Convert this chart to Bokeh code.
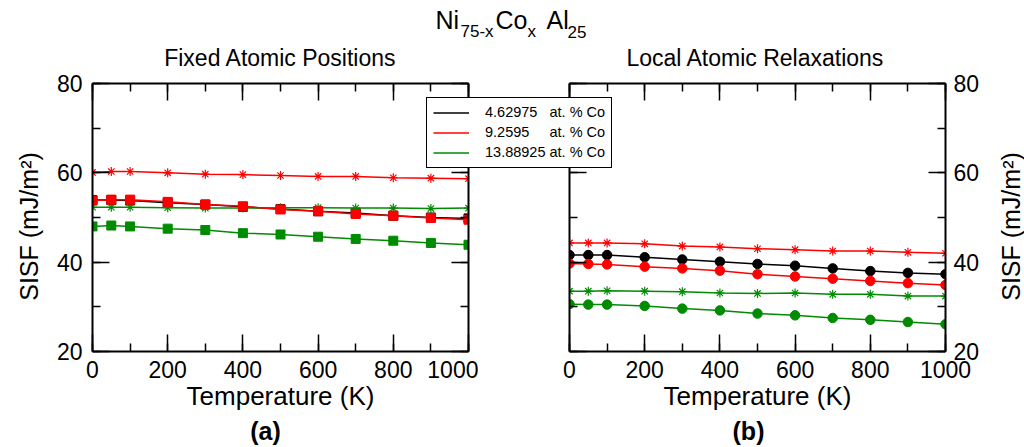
import math
from bokeh.plotting import figure
from bokeh.models import (Range1d, LinearAxis, SingleIntervalTicker, Label,
                          Legend, LegendItem)
from bokeh.layouts import row, column
from bokeh.embed import file_html
from bokeh.resources import INLINE

FONT = "Liberation Sans"
BLACK, RED, GREEN = "#000000", "#ff0000", "#008b00"

# ---------------- data ----------------
temperature = [0, 50, 100, 200, 300, 400, 500, 600, 700, 800, 900, 1000]
conc_labels = ["4.62975", "9.2595", "13.88925"]

# (a) Fixed atomic positions
fixed_c1_sq = [53.9, 53.9, 53.8, 53.3, 52.9, 52.4, 51.9, 51.4, 51.0, 50.4, 50.0, 49.8]
fixed_c2_sq = [53.8, 54.0, 54.0, 53.5, 52.9, 52.5, 51.8, 51.4, 50.8, 50.4, 49.9, 49.5]
fixed_c2_star = [60.1, 60.3, 60.3, 60.0, 59.7, 59.6, 59.4, 59.2, 59.2, 58.9, 58.8, 58.7]
fixed_c3_sq = [48.0, 48.2, 48.0, 47.5, 47.2, 46.5, 46.2, 45.7, 45.2, 44.8, 44.3, 43.9]
fixed_c3_star = [52.3, 52.3, 52.3, 52.2, 52.1, 52.1, 52.2, 52.2, 52.1, 52.1, 52.0, 52.1]

# (b) Local atomic relaxations
relax_c1_circ = [41.6, 41.6, 41.6, 41.1, 40.6, 40.1, 39.6, 39.2, 38.6, 38.0, 37.6, 37.3]
relax_c2_circ = [39.7, 39.6, 39.5, 39.0, 38.6, 38.1, 37.3, 36.8, 36.3, 35.8, 35.3, 34.9]
relax_c2_star = [44.3, 44.3, 44.3, 44.1, 43.6, 43.4, 43.0, 42.8, 42.5, 42.5, 42.2, 42.0]
relax_c3_circ = [30.6, 30.5, 30.5, 30.2, 29.6, 29.2, 28.5, 28.1, 27.5, 27.1, 26.6, 26.1]
relax_c3_star = [33.5, 33.5, 33.6, 33.5, 33.4, 33.1, 33.0, 33.1, 32.8, 32.8, 32.4, 32.4]

x_start, x_end, x_major = 0, 1000, 200
y_start, y_end, y_major = 20, 80, 20

W, H = 1024, 447
FRAME_W, FRAME_H = 376, 268
TOP = 83
BOTTOM = H - TOP - FRAME_H


def make_axis(kind, labelled):
    ticker = SingleIntervalTicker(interval=x_major if kind == "x" else y_major,
                                  num_minor_ticks=2)
    ax = LinearAxis(ticker=ticker)
    ax.axis_line_color = "black"
    ax.axis_line_width = 2
    ax.major_tick_in = 17
    ax.major_tick_out = 0
    ax.minor_tick_in = 8
    ax.minor_tick_out = 0
    ax.major_tick_line_color = "black"
    ax.minor_tick_line_color = "black"
    ax.major_tick_line_width = 1.5
    ax.minor_tick_line_width = 1.5
    if labelled:
        ax.major_label_text_font = FONT
        ax.major_label_text_font_size = "23px"
        ax.major_label_text_color = "black"
    else:
        ax.major_label_text_color = None
        ax.major_label_text_font_size = "1px"
        ax.major_label_standoff = 0
    return ax


def make_panel(min_left, min_right, ylabel_side):
    p = figure(frame_width=FRAME_W, frame_height=FRAME_H,
               x_range=Range1d(x_start, x_end), y_range=Range1d(y_start, y_end),
               x_axis_location=None, y_axis_location=None,
               toolbar_location=None, output_backend="svg",
               min_border_left=min_left, min_border_right=min_right,
               min_border_top=TOP, min_border_bottom=BOTTOM)
    p.grid.visible = False
    p.outline_line_color = None
    p.background_fill_color = "white"
    p.border_fill_color = "white"

    bx = make_axis("x", True)
    bx.major_label_standoff = 9
    bx.axis_label = "Temperature (K)"
    bx.axis_label_text_font = FONT
    bx.axis_label_text_font_size = "26px"
    bx.axis_label_text_font_style = "normal"
    bx.axis_label_text_color = "black"
    bx.axis_label_standoff = 0
    p.add_layout(bx, "below")
    p.add_layout(make_axis("x", False), "above")

    ly = make_axis("y", ylabel_side == "left")
    ry = make_axis("y", ylabel_side == "right")
    if ylabel_side == "left":
        ly.major_label_standoff = 10
    else:
        ry.major_label_standoff = 8
    p.add_layout(ly, "left")
    p.add_layout(ry, "right")
    return p


def series(p, y, color, marker, size):
    r = p.line(temperature, y, line_color=color, line_width=1.5)
    if marker == "asterisk":
        p.scatter(temperature, y, marker=marker, size=size, line_color=color,
                  line_width=1.2)
    else:
        p.scatter(temperature, y, marker=marker, size=size, fill_color=color,
                  line_color=color)
    return r


# ---------------- panel (a) ----------------
p1 = make_panel(92, 10, "left")          # frame x: 92 .. 468
series(p1, fixed_c1_sq, BLACK, "square", 9)
series(p1, fixed_c3_star, GREEN, "asterisk", 9)
series(p1, fixed_c3_sq, GREEN, "square", 9)
series(p1, fixed_c2_star, RED, "asterisk", 9)
series(p1, fixed_c2_sq, RED, "square", 9)

# ---------------- panel (b) ----------------
P1_W = 92 + FRAME_W + 10
p2 = make_panel(569 - P1_W, W - 569 - FRAME_W, "right")   # frame x: 569 .. 945
series(p2, relax_c1_circ, BLACK, "circle", 9.5)
series(p2, relax_c2_circ, RED, "circle", 9.5)
series(p2, relax_c2_star, RED, "asterisk", 9)
series(p2, relax_c3_circ, GREEN, "circle", 9.5)
series(p2, relax_c3_star, GREEN, "asterisk", 9)

# ---------------- transparent overlay for texts and legend ----------------
# its x range lies left of all the data, so its own lines serve only as legend samples
p3 = figure(width=W, height=H, title=None, toolbar_location=None,
            output_backend="svg", x_range=Range1d(-3000, -2000),
            y_range=Range1d(0, 100),
            x_axis_location=None, y_axis_location=None,
            min_border=0, min_border_left=0, min_border_right=0,
            min_border_top=0, min_border_bottom=0)
p3.grid.visible = False
p3.outline_line_color = None
p3.background_fill_alpha = 0
p3.border_fill_alpha = 0

CENTER_SHIFT = 0.347   # label anchor is the text-box centre; baseline sits this far below


def txt(x, base, text, size, align="center", style="normal", rotated=False):
    if rotated:
        xx, yy, ang = x - CENTER_SHIFT * size, H - base, math.pi / 2
    else:
        xx, yy, ang = x, H - (base - CENTER_SHIFT * size), 0.0
    p3.add_layout(Label(x=xx, y=yy, x_units="screen", y_units="screen",
                        text=text, text_font=FONT, text_font_size=f"{size}px",
                        text_font_style=style, text_align=align,
                        text_baseline="alphabetic", text_color="black",
                        angle=ang))


# main title  Ni_{75-x} Co_x Al_25
title_parts = [("Ni", 435, 28, 25), ("75-x", 460, 37, 17),
               ("Co", 495, 28, 25), ("x", 527, 37, 17),
               ("Al", 546, 28, 25), ("25", 567, 37, 17)]
for t, x, b, s in title_parts:
    txt(x, b, t, s, align="left")

txt(280, 65, "Fixed Atomic Positions", 23)
txt(755, 65, "Local Atomic Relaxations", 23)
txt(265, 439, "(a)", 25, style="bold")
txt(748, 439, "(b)", 25, style="bold")
txt(37, 226, "SISF (mJ/m\u00b2)", 25, rotated=True)
txt(1019, 226, "SISF (mJ/m\u00b2)", 25, rotated=True)

colors = [BLACK, RED, GREEN]
relax_series = [relax_c1_circ, relax_c2_circ, relax_c3_circ]
legend_lines = [p3.line(temperature, relax_series[i], line_color=colors[i],
                        line_width=1.5) for i in range(3)]
pad = ["\u00a0" * 3, "\u00a0" * 5, "\u00a0"]
items = [LegendItem(label=conc_labels[i] + pad[i] + "at. % Co",
                    renderers=[legend_lines[i]]) for i in range(3)]
legend = Legend(items=items, location=(426, H - 167.5), margin=0, padding=6,
                spacing=3, glyph_width=36, glyph_height=17, label_height=17,
                label_standoff=16, label_text_font=FONT,
                label_text_font_size="14.5px", label_text_color="black",
                border_line_color="black", border_line_width=1.5,
                border_line_alpha=1.0,
                background_fill_color="white", background_fill_alpha=1.0)
p3.add_layout(legend)

panels = row(p1, p2)
p3.margin = (-H, 0, 0, 0)
layout = column(panels, p3)

open("out.html", "w").write(file_html(layout, INLINE))
